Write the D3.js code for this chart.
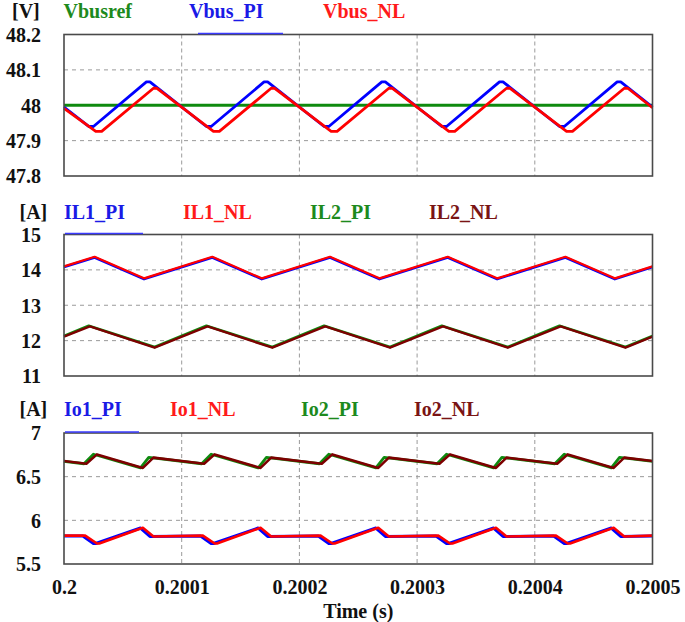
<!DOCTYPE html>
<html>
<head>
<meta charset="utf-8">
<script src="https://cdn.jsdelivr.net/npm/d3@7"></script>
<style>
  html, body { margin: 0; padding: 0; background: #fff; }
  #chart text { font-family: "Liberation Serif", "Times New Roman", Tinos, "DejaVu Serif", serif !important; font-weight: bold; }
</style>
</head>
<body>
<svg id="chart" width="685" height="622" font-family="Liberation Serif, serif"></svg>
<script>
// ---------------- DATA ----------------
// time axis (seconds); series time stamps are given in microseconds after 0.2 s
const timeTicks = [0.2, 0.2001, 0.2002, 0.2003, 0.2004, 0.2005];
const timeTickLabels = ["0.2", "0.2001", "0.2002", "0.2003", "0.2004", "0.2005"];
const timeTitle = "Time (s)";

// Panel 1 : bus voltage [V]
const vTicks = [47.8, 47.9, 48, 48.1, 48.2];
const vTickLabels = ["47.8", "47.9", "48", "48.1", "48.2"];
const vUnit = "[V]";
const vNames = ["Vbusref", "Vbus_PI", "Vbus_NL"];
const vbusRef_t = [0, 500];
const vbusRef_v = [48.0, 48.0];
const vbusPI_t = [0, 21, 25, 70, 73, 121, 125, 170, 173, 221, 225, 270, 273, 321, 325, 370, 373, 421, 425, 470, 473, 500];
const vbusPI_v = [47.995, 47.940, 47.940, 48.066, 48.066, 47.940, 47.940, 48.066, 48.066, 47.940, 47.940, 48.066, 48.066, 47.940, 47.940, 48.066, 48.066, 47.940, 47.940, 48.066, 48.066, 47.995];
const vbusNL_t = [0, 27, 32, 76, 79, 127, 132, 176, 179, 227, 232, 276, 279, 327, 332, 376, 379, 427, 432, 476, 479, 500];
const vbusNL_v = [47.991, 47.926, 47.926, 48.048, 48.048, 47.926, 47.926, 48.048, 48.048, 47.926, 47.926, 48.048, 48.048, 47.926, 47.926, 48.048, 48.048, 47.926, 47.926, 48.048, 48.048, 47.993];

// Panel 2 : inductor currents [A]
const iLTicks = [11, 12, 13, 14, 15];
const iLTickLabels = ["11", "12", "13", "14", "15"];
const iLUnit = "[A]";
const iLNames = ["IL1_PI", "IL1_NL", "IL2_PI", "IL2_NL"];
const iL1PI_t = [0, 26, 68, 126, 168, 226, 268, 326, 368, 426, 468, 500];
const iL1PI_v = [14.08, 14.35, 13.74, 14.35, 13.74, 14.35, 13.74, 14.35, 13.74, 14.35, 13.74, 14.08];
const iL1NL_t = [0, 26, 68, 126, 168, 226, 268, 326, 368, 426, 468, 500];
const iL1NL_v = [14.10, 14.37, 13.76, 14.37, 13.76, 14.37, 13.76, 14.37, 13.76, 14.37, 13.76, 14.10];
const iL2PI_t = [0, 21, 77, 121, 177, 221, 277, 321, 377, 421, 477, 500];
const iL2PI_v = [12.13, 12.42, 11.82, 12.42, 11.82, 12.42, 11.82, 12.42, 11.82, 12.42, 11.82, 12.13];
const iL2NL_t = [0, 22, 77, 122, 177, 222, 277, 322, 377, 422, 477, 500];
const iL2NL_v = [12.11, 12.40, 11.80, 12.40, 11.80, 12.40, 11.80, 12.40, 11.80, 12.40, 11.80, 12.11];

// Panel 3 : output currents [A]
const ioTicks = [5.5, 6, 6.5, 7];
const ioTickLabels = ["5.5", "6", "6.5", "7"];
const ioUnit = "[A]";
const ioNames = ["Io1_PI", "Io1_NL", "Io2_PI", "Io2_NL"];
const io1PI_t = [0, 16, 25, 27, 65, 73, 116, 125, 127, 165, 173, 216, 225, 227, 265, 273, 316, 325, 327, 365, 373, 416, 425, 427, 465, 473, 500];
const io1PI_v = [5.82, 5.82, 5.735, 5.735, 5.912, 5.815, 5.82, 5.735, 5.735, 5.912, 5.815, 5.82, 5.735, 5.735, 5.912, 5.815, 5.82, 5.735, 5.735, 5.912, 5.815, 5.82, 5.735, 5.735, 5.912, 5.815, 5.82];
const io1NL_t = [0, 18, 28, 30, 67, 76, 118, 128, 130, 167, 176, 218, 228, 230, 267, 276, 318, 328, 330, 367, 376, 418, 428, 430, 467, 476, 500];
const io1NL_v = [5.825, 5.825, 5.735, 5.735, 5.915, 5.815, 5.825, 5.735, 5.735, 5.915, 5.815, 5.825, 5.735, 5.735, 5.915, 5.815, 5.825, 5.735, 5.735, 5.915, 5.815, 5.825, 5.735, 5.735, 5.915, 5.815, 5.825];
const io2PI_t = [0, 17, 25, 65, 72, 117, 125, 165, 172, 217, 225, 265, 272, 317, 325, 365, 372, 417, 425, 465, 472, 500];
const io2PI_v = [6.674, 6.648, 6.757, 6.600, 6.720, 6.648, 6.757, 6.600, 6.720, 6.648, 6.757, 6.600, 6.720, 6.648, 6.757, 6.600, 6.720, 6.648, 6.757, 6.600, 6.720, 6.674];
const io2NL_t = [0, 19, 28, 67, 76, 119, 128, 167, 176, 219, 228, 267, 276, 319, 328, 367, 376, 419, 428, 467, 476, 500];
const io2NL_v = [6.679, 6.648, 6.755, 6.600, 6.718, 6.648, 6.755, 6.600, 6.718, 6.648, 6.755, 6.600, 6.718, 6.648, 6.755, 6.600, 6.718, 6.648, 6.755, 6.600, 6.718, 6.679];

// ---------------- STYLE ----------------
const FONT = '"Liberation Serif", "Times New Roman", Tinos, "DejaVu Serif", serif';
const C = { blue: "#0000ff", red: "#ff0000", green: "#0f8a0f", dred: "#7d0000" };
const TXT = { blue: "#1a1ae6", red: "#ff1a1a", green: "#1d8a1d", dred: "#7a1414" };

const svg = d3.select("#chart");
const X0 = 64, X1 = 652.5;
const x = d3.scaleLinear().domain([0.2, 0.2005]).range([X0, X1]);
const tsec = t => 0.2 + t / 1e6;

function zip(ts, vs) { return ts.map((t, i) => [tsec(t), vs[i]]); }

function txt(sel) {
  return sel.attr("font-family", FONT).attr("font-weight", "bold").attr("font-size", 20);
}

function panel(cfg) {
  const y = d3.scaleLinear().domain(cfg.domain).range([cfg.bottom, cfg.top]);
  const g = svg.append("g");
  const innerY = cfg.ticks.filter(v => v !== cfg.domain[0] && v !== cfg.domain[1]);
  g.selectAll("line.hg").data(innerY).enter().append("line")
    .attr("x1", X0).attr("x2", X1).attr("y1", d => y(d)).attr("y2", d => y(d))
    .attr("stroke", "#9a9a9a").attr("stroke-width", 1).attr("stroke-dasharray", "4,4");
  const innerX = timeTicks.slice(1, -1);
  g.selectAll("line.vg").data(innerX).enter().append("line")
    .attr("x1", d => x(d)).attr("x2", d => x(d)).attr("y1", cfg.top).attr("y2", cfg.bottom)
    .attr("stroke", "#9a9a9a").attr("stroke-width", 1).attr("stroke-dasharray", "4,3");
  const yAxis = d3.axisLeft(y).tickValues(cfg.ticks).tickFormat((d, i) => cfg.labels[i]).tickSize(0).tickPadding(0);
  const ya = g.append("g").attr("transform", `translate(41,0)`).call(yAxis);
  ya.attr("font-family", FONT);
  ya.select(".domain").remove();
  txt(ya.selectAll("text")).attr("fill", "#111").attr("dy", "0.34em").attr("text-anchor", "end");
  const line = d3.line().x(d => x(d[0])).y(d => y(d[1]));
  cfg.series.forEach(s => {
    g.append("path").datum(zip(s.t, s.v)).attr("d", line)
      .attr("fill", "none").attr("stroke", s.color).attr("stroke-width", s.w || 2.6)
      .attr("stroke-linejoin", "round");
  });
  g.append("rect").attr("x", X0).attr("y", cfg.top).attr("width", X1 - X0).attr("height", cfg.bottom - cfg.top)
    .attr("fill", "none").attr("stroke", "#4a4a4a").attr("stroke-width", 1.6);
  if (cfg.stub) {
    g.append("line").attr("x1", cfg.stub[0]).attr("x2", cfg.stub[1]).attr("y1", cfg.top - 1).attr("y2", cfg.top - 1)
      .attr("stroke", "#3a3aff").attr("stroke-width", 1.4);
  }
  txt(g.append("text")).attr("x", cfg.unitX).attr("y", cfg.legY).attr("fill", "#111").text(cfg.unit);
  cfg.legend.forEach(l => {
    txt(g.append("text")).attr("x", l.x).attr("y", cfg.legY).attr("fill", l.color).text(l.name);
  });
  return y;
}

panel({
  domain: [47.8, 48.2], top: 34.5, bottom: 176, ticks: vTicks, labels: vTickLabels,
  unit: vUnit, unitX: 12, legY: 18, stub: [198, 283],
  legend: [
    { name: vNames[0], x: 63.5, color: TXT.green },
    { name: vNames[1], x: 189, color: TXT.blue },
    { name: vNames[2], x: 323, color: TXT.red }
  ],
  series: [
    { t: vbusRef_t, v: vbusRef_v, color: C.green, w: 2.8 },
    { t: vbusPI_t, v: vbusPI_v, color: C.blue, w: 2.8 },
    { t: vbusNL_t, v: vbusNL_v, color: C.red, w: 2.8 }
  ]
});

panel({
  domain: [11, 15], top: 234.5, bottom: 376, ticks: iLTicks, labels: iLTickLabels,
  unit: iLUnit, unitX: 19.5, legY: 219, stub: [65, 143],
  legend: [
    { name: iLNames[0], x: 64, color: TXT.blue },
    { name: iLNames[1], x: 183, color: TXT.red },
    { name: iLNames[2], x: 310, color: TXT.green },
    { name: iLNames[3], x: 429, color: TXT.dred }
  ],
  series: [
    { t: iL1PI_t, v: iL1PI_v, color: C.blue, w: 2.6 },
    { t: iL1NL_t, v: iL1NL_v, color: C.red, w: 2.2 },
    { t: iL2PI_t, v: iL2PI_v, color: C.green, w: 2.6 },
    { t: iL2NL_t, v: iL2NL_v, color: C.dred, w: 2.4 }
  ]
});

panel({
  domain: [5.5, 7], top: 433, bottom: 564, ticks: ioTicks, labels: ioTickLabels,
  unit: ioUnit, unitX: 19.5, legY: 416, stub: [65, 139],
  legend: [
    { name: ioNames[0], x: 64, color: TXT.blue },
    { name: ioNames[1], x: 170, color: TXT.red },
    { name: ioNames[2], x: 301, color: TXT.green },
    { name: ioNames[3], x: 414, color: TXT.dred }
  ],
  series: [
    { t: io1PI_t, v: io1PI_v, color: C.blue, w: 3 },
    { t: io1NL_t, v: io1NL_v, color: C.red, w: 2.6 },
    { t: io2PI_t, v: io2PI_v, color: C.green, w: 2.8 },
    { t: io2NL_t, v: io2NL_v, color: C.dred, w: 2.6 }
  ]
});

const xAxis = d3.axisBottom(x).tickValues(timeTicks).tickFormat((d, i) => timeTickLabels[i]).tickSize(0).tickPadding(0);
const xa = svg.append("g").attr("transform", "translate(0,594)").call(xAxis);
xa.attr("font-family", FONT);
xa.select(".domain").remove();
txt(xa.selectAll("text")).attr("fill", "#111").attr("dy", 0);
txt(svg.append("text")).attr("x", (X0 + X1) / 2).attr("y", 618).attr("text-anchor", "middle")
  .attr("fill", "#111").text(timeTitle);
</script>
</body>
</html>
